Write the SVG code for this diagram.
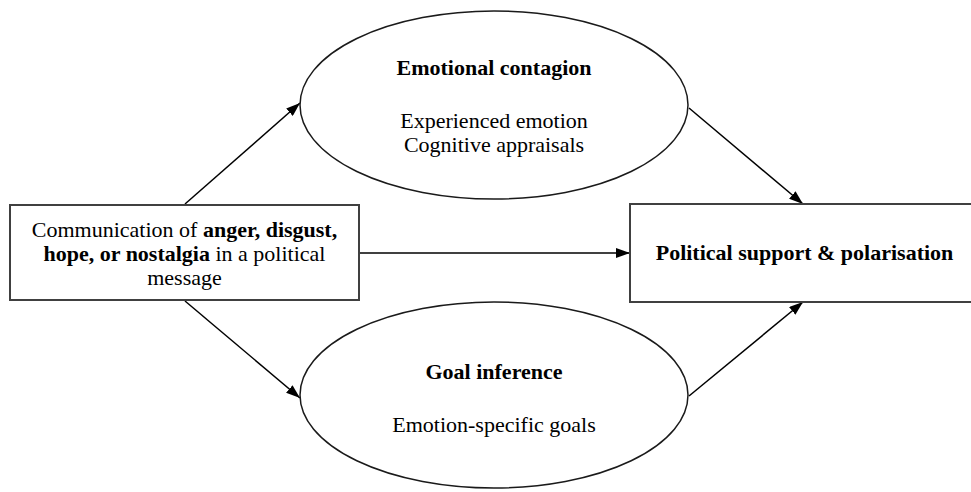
<svg xmlns="http://www.w3.org/2000/svg" width="971" height="492" viewBox="0 0 971 492">
<defs>
<marker id="ah" viewBox="0 0 14 10" refX="14" refY="5" markerWidth="14" markerHeight="10" markerUnits="userSpaceOnUse" orient="auto">
<path d="M0,0 L14,5 L0,10 z" fill="#000"/>
</marker>
<style>
text{font-family:"Liberation Serif","Times New Roman",serif;font-size:22px;fill:#000;text-anchor:middle}
.b{font-weight:bold}
.box{fill:#fff;stroke:#404040;stroke-width:2}
.ell{fill:#fff;stroke:#1a1a1a;stroke-width:1.5}
.con line{stroke:#000;stroke-width:1.5;marker-end:url(#ah)}
</style>
</defs>
<rect width="971" height="492" fill="#fff"/>
<g class="con">
<line x1="185" y1="204" x2="300" y2="103"/>
<line x1="185" y1="301" x2="300" y2="398"/>
<line x1="359" y1="253" x2="630" y2="253"/>
<line x1="689" y1="108" x2="803" y2="204"/>
<line x1="689" y1="396" x2="803" y2="302"/>
</g>
<g id="source">
<rect class="box" x="10" y="205" width="349" height="95"/>
<text x="184.5" y="237">Communication of <tspan class="b">anger, disgust,</tspan></text>
<text x="184.5" y="261"><tspan class="b">hope, or nostalgia</tspan> in a political</text>
<text x="184.5" y="285">message</text>
</g>
<g id="contagion">
<ellipse class="ell" cx="494" cy="105" rx="194" ry="94"/>
<text class="b" x="494" y="75">Emotional contagion</text>
<text x="494" y="128">Experienced emotion</text>
<text x="494" y="152">Cognitive appraisals</text>
</g>
<g id="goal">
<ellipse class="ell" cx="494" cy="395" rx="194" ry="93"/>
<text class="b" x="494" y="379">Goal inference</text>
<text x="494" y="432">Emotion-specific goals</text>
</g>
<g id="outcome">
<rect class="box" x="630" y="204" width="350" height="98"/>
<text class="b" x="804.5" y="260">Political support &amp; polarisation</text>
</g>
</svg>
